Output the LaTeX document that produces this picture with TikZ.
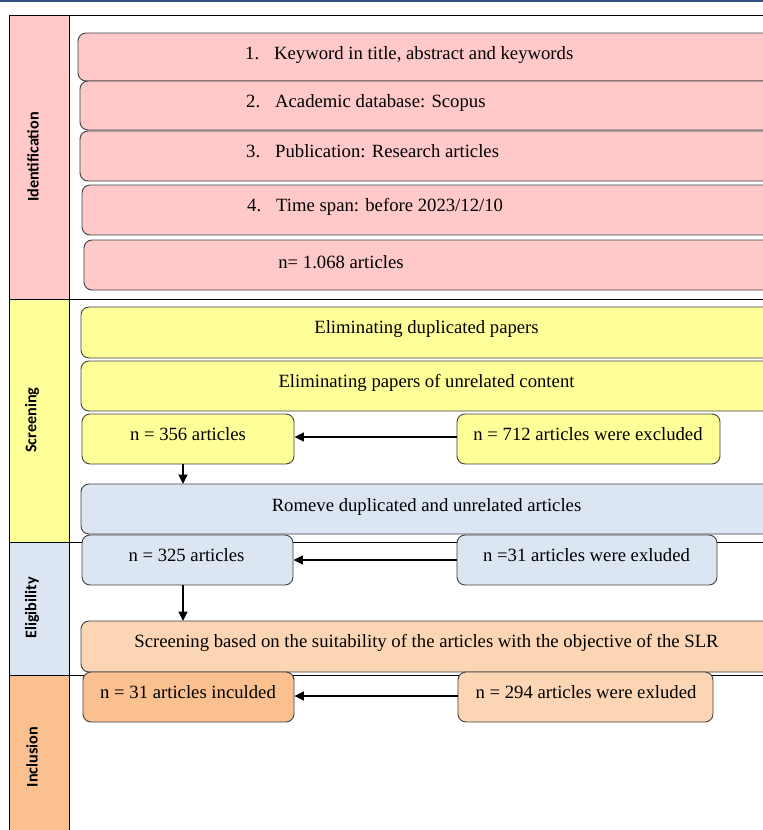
\documentclass[tikz,border=0pt]{standalone}
\usepackage{fontspec}
\setmainfont{Liberation Serif}
\newfontfamily\labfont{Carlito}
\usetikzlibrary{arrows.meta}
\definecolor{pinkc}{HTML}{FFC9C9}
\definecolor{yelc}{HTML}{FFFF99}
\definecolor{bluec}{HTML}{DCE6F2}
\definecolor{orlc}{HTML}{FCD5B5}
\definecolor{ordc}{HTML}{FAC090}
\definecolor{topc}{HTML}{2F4F7F}
\definecolor{edgec}{HTML}{404040}
\begin{document}
\begin{tikzpicture}[x=1pt,y=-1pt,
  box/.style={draw=edgec,line width=0.9pt,rounded corners=8pt},
  txt/.style={font=\fontsize{18.7}{21}\selectfont,inner sep=0pt,anchor=base},
  ltxt/.style={txt,anchor=base west},
  lab/.style={font=\labfont\bfseries\fontsize{16.2}{18}\selectfont,rotate=90,inner sep=0pt},
  arr/.style={-{Triangle[length=9.5pt,width=9pt]},line width=1.3pt}]
\useasboundingbox (0,0) rectangle (763,830);
\fill[white] (0,0) rectangle (763,830);
\fill[topc] (0,0) rectangle (763,1.6);
% label column
\fill[pinkc] (9,15) rectangle (69,299);
\fill[yelc] (9,299) rectangle (69,542);
\fill[bluec] (9,542) rectangle (69,675);
\fill[ordc] (9,675) rectangle (69,832);
\draw[line width=0.9pt] (9,832) -- (9,15) -- (770,15);
\draw[line width=0.9pt] (69,15) -- (69,832);
\foreach \yy in {299,542,675} \draw[line width=0.9pt] (9,\yy) -- (770,\yy);
\node[lab] (lid) at (33,157) {Identification};
\node[lab] (lsc) at (32,420) {Screening};
\node[lab] (lel) at (32,608) {Eligibility};
\node[lab] (lin) at (32,757) {Inclusion};
% identification boxes
\draw[box,fill=pinkc] (78,33) rectangle (790,81);
\draw[box,fill=pinkc] (80,81) rectangle (790,130);
\draw[box,fill=pinkc] (80,131) rectangle (790,181);
\draw[box,fill=pinkc] (82,185) rectangle (790,235);
\draw[box,fill=pinkc] (84,240) rectangle (790,290);
\node[ltxt] (t1) at (245,59) {\makebox[29pt][l]{1.}Keyword in title, abstract and keywords};
\node[ltxt] (t2) at (246,107) {\makebox[29pt][l]{2.}Academic database: Scopus};
\node[ltxt] (t3) at (246,157) {\makebox[29pt][l]{3.}Publication: Research articles};
\node[ltxt] (t4) at (247,211) {\makebox[29pt][l]{4.}Time span: before 2023/12/10};
\node[txt] (t5) at (341,268) {n= 1.068 articles};
% screening
\draw[box,fill=yelc] (81,307) rectangle (790,358);
\draw[box,fill=yelc] (81,361) rectangle (790,411);
\node[txt] (s1) at (426.5,333) {Eliminating duplicated papers};
\node[txt] (s2) at (426.5,387) {Eliminating papers of unrelated content};
\node[box,fill=yelc,minimum width=212pt,minimum height=50pt] (n356) at (188,439) {};
\node[txt] at (188,440) {n = 356 articles};
\node[box,fill=yelc,minimum width=263pt,minimum height=50pt] (n712) at (588.5,439) {};
\node[txt] at (588,440) {n = 712 articles were excluded};
\draw[arr] (n712.west |- 0,437) -- (n356.east |- 0,437);
\draw[box,fill=bluec] (81,484) rectangle (790,534);
\node[txt] (s3) at (426.5,511) {Romeve duplicated and unrelated articles};
\draw[arr] (183,464) -- (183,484);
% eligibility
\node[box,fill=bluec,minimum width=211pt,minimum height=50pt] (n325) at (187.5,560) {};
\node[txt] at (186.5,561) {n = 325 articles};
\node[box,fill=bluec,minimum width=260pt,minimum height=50pt] (n31x) at (587,560) {};
\node[txt] at (586.5,561) {n =31 articles were exluded};
\draw[arr] (n31x.west) -- (n325.east);
\draw[box,fill=orlc] (81,621) rectangle (790,672);
\node[txt] (e1) at (426.5,647) {Screening based on the suitability of the articles with the objective of the SLR};
\draw[arr] (n325.south -| 183,0) -- (183,621);
% inclusion
\node[box,fill=ordc,minimum width=211pt,minimum height=50pt] (n31i) at (188.5,697) {};
\node[txt] at (188,698) {n = 31 articles inculded};
\node[box,fill=orlc,minimum width=255pt,minimum height=50pt] (n294) at (585.5,697) {};
\node[txt] at (586,698) {n = 294 articles were exluded};
\draw[arr] (n294.west |- 0,696) -- (n31i.east |- 0,696);
\end{tikzpicture}
\end{document}
